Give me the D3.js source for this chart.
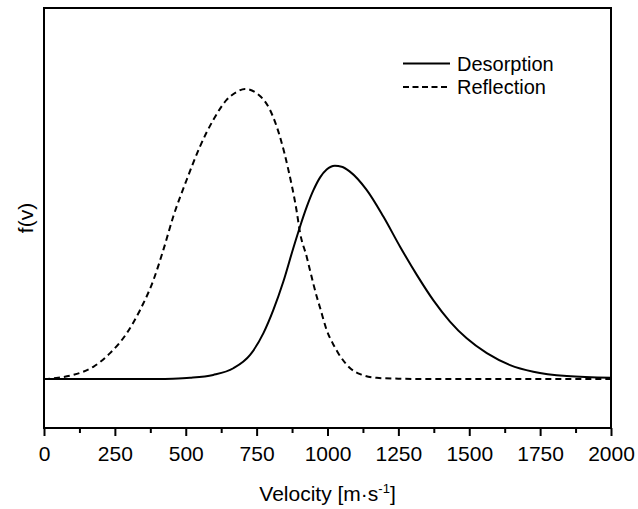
<!DOCTYPE html>
<html>
<head>
<meta charset="utf-8">
<script src="https://cdn.jsdelivr.net/npm/d3@7/dist/d3.min.js"></script>
<style>
  html, body { margin: 0; padding: 0; background: #fff; }
  svg { display: block; }
  text { font-family: "Liberation Sans", Arial, sans-serif; fill: #000; }
</style>
</head>
<body>
<svg id="chart" width="638" height="509"></svg>
<script>
// ---- Data ----
const xMajorTicks = [0, 250, 500, 750, 1000, 1250, 1500, 1750, 2000];
const xMinorTicks = [125, 375, 625, 875, 1125, 1375, 1625, 1875];

const seriesNames = ["Desorption", "Reflection"];

const desorptionV = [0, 200, 400, 455, 515, 597, 668, 727, 774, 809, 844, 879, 903, 927, 950, 974, 997, 1026, 1050, 1079, 1138, 1197, 1256, 1315, 1373, 1432, 1491, 1562, 1644, 1726, 1844, 2000];
const desorptionF = [0, 0, 0, 0.001, 0.004, 0.014, 0.037, 0.083, 0.158, 0.238, 0.335, 0.45, 0.525, 0.594, 0.65, 0.695, 0.722, 0.735, 0.732, 0.715, 0.652, 0.560, 0.456, 0.359, 0.272, 0.198, 0.140, 0.089, 0.048, 0.025, 0.010, 0.004];

const reflectionV = [0, 50, 103, 174, 233, 292, 339, 386, 421, 456, 503, 550, 597, 644, 680, 709, 750, 797, 832, 862, 891, 903, 927, 938, 962, 974, 997, 1020, 1038, 1079, 1120, 1174, 1250, 1315, 1500, 1750, 2000];
const reflectionF = [0, 0.004, 0.014, 0.042, 0.089, 0.158, 0.238, 0.341, 0.445, 0.560, 0.686, 0.801, 0.893, 0.962, 0.990, 1.0, 0.985, 0.928, 0.836, 0.721, 0.58, 0.505, 0.42, 0.376, 0.284, 0.245, 0.169, 0.12, 0.089, 0.038, 0.015, 0.004, 0.001, 0, 0, 0, 0];

// ---- Layout ----
const svg = d3.select("#chart");
const L = 44, R = 611, T = 8, B = 428;

const x = d3.scaleLinear().domain([0, 2000]).range([L, R]);
const y = d3.scaleLinear().domain([-0.169, 1.279]).range([B, T]);

const line = d3.line()
  .x(d => x(d[0]))
  .y(d => y(d[1]))
  .curve(d3.curveMonotoneX);

const desData = desorptionV.map((v, i) => [v, desorptionF[i]]);
const refData = reflectionV.map((v, i) => [v, reflectionF[i]]);

const clip = svg.append("clipPath").attr("id", "clip")
  .append("rect").attr("x", L).attr("y", T).attr("width", R - L).attr("height", B - T);

const g = svg.append("g").attr("clip-path", "url(#clip)");

g.append("path").datum(refData)
  .attr("d", line)
  .attr("fill", "none")
  .attr("stroke", "#000")
  .attr("stroke-width", 2)
  .attr("stroke-dasharray", "6,4");

g.append("path").datum(desData)
  .attr("d", line)
  .attr("fill", "none")
  .attr("stroke", "#000")
  .attr("stroke-width", 2);

// ---- Axes ----
const xAxis = d3.axisBottom(x)
  .tickValues(xMajorTicks)
  .tickSize(8)
  .tickPadding(10)
  .tickFormat(d3.format("d"));

const gx = svg.append("g").attr("transform", `translate(0,${B})`).call(xAxis);
gx.select(".domain").remove();
gx.selectAll(".tick line").attr("stroke", "#000").attr("stroke-width", 2);
gx.selectAll(".tick text")
  .style("font-family", '"Liberation Sans", Arial, sans-serif')
  .style("font-size", "21px")
  .attr("fill", "#000");

const xMinor = d3.axisBottom(x).tickValues(xMinorTicks).tickSize(5).tickFormat("");
const gxm = svg.append("g").attr("transform", `translate(0,${B})`).call(xMinor);
gxm.select(".domain").remove();
gxm.selectAll(".tick line").attr("stroke", "#000").attr("stroke-width", 2);

// frame
svg.append("rect")
  .attr("x", L).attr("y", T).attr("width", R - L).attr("height", B - T)
  .attr("fill", "none").attr("stroke", "#000").attr("stroke-width", 2);

// axis titles
const xt = svg.append("text")
  .attr("x", (L + R) / 2).attr("y", 501)
  .attr("text-anchor", "middle")
  .style("font-size", "21px");
xt.append("tspan").text("Velocity [m\u00B7s");
xt.append("tspan").attr("dy", -8).style("font-size", "13px").text("-1");
xt.append("tspan").attr("dy", 8).text("]");

svg.append("text")
  .attr("transform", `translate(33,${(T + B) / 2}) rotate(-90)`)
  .attr("text-anchor", "middle")
  .style("font-size", "21px")
  .text("f(v)");

// legend
const legend = svg.append("g");
const legendRows = [
  { name: seriesNames[0], dash: null, ly: 63.5 },
  { name: seriesNames[1], dash: "6,3.5", ly: 87 }
];
legendRows.forEach(r => {
  legend.append("line")
    .attr("x1", 403).attr("x2", 450)
    .attr("y1", r.ly).attr("y2", r.ly)
    .attr("stroke", "#000").attr("stroke-width", 2)
    .attr("stroke-dasharray", r.dash);
  legend.append("text")
    .attr("x", 457).attr("y", r.ly + 7.3)
    .style("font-size", "20px")
    .text(r.name);
});
</script>
</body>
</html>
